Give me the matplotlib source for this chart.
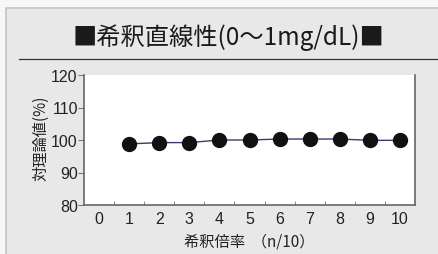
import matplotlib
matplotlib.use("Agg")
import matplotlib.pyplot as plt
from matplotlib.patches import Rectangle
from matplotlib.lines import Line2D

dilution = [1, 2, 3, 4, 5, 6, 7, 8, 9, 10]
ratio = [98.8, 99.2, 99.2, 100.0, 100.0, 100.3, 100.3, 100.3, 99.9, 99.9]
xticks = list(range(0, 11))
yticks = [80, 90, 100, 110, 120]
title = "■希釈直線性(0〜1mg/dL)■"
xlabel = "希釈倍率  （n/10）"
ylabel = "対理論値(%)"

jp = ['Noto Sans CJK JP', 'DejaVu Sans']
num = ['Liberation Sans', 'DejaVu Sans']

W, H = 438, 255
fig = plt.figure(figsize=(W / 100, H / 100), dpi=100)
fig.patch.set_facecolor('#f7f7f7')

# panel
fig.patches.append(Rectangle((6 / W, -0.01), 1, 1.01 - 9 / H, transform=fig.transFigure,
                             facecolor='#e8e8e8', edgecolor='#c4c4c4', linewidth=1.2, zorder=-5))
fig.lines.append(Line2D([19 / W, 1], [1 - 60 / H, 1 - 60 / H], transform=fig.transFigure,
                        color='#333333', linewidth=0.9, zorder=-4))
fig.text(228 / W, 1 - 38 / H, title, ha='center', va='center', fontsize=17.5,
         family=jp, color='#1a1a1a')

ax = fig.add_axes([84 / W, 1 - 206 / H, (415 - 84) / W, (206 - 76) / H])
ax.set_zorder(2)
ax.set_facecolor('white')
ax.plot(dilution, ratio, color='#3b3b6e', linewidth=1.0, marker='o', markersize=10,
        markerfacecolor='#111111', markeredgecolor='#111111', zorder=3)
ax.set_xlim(-0.5, 10.5)
ax.set_ylim(80, 120)
ax.set_xticks(xticks)
ax.set_xticks([x + 0.5 for x in xticks[:-1]], minor=True)
ax.set_yticks(yticks)
ax.tick_params(axis='x', which='major', length=0, pad=4, labelsize=11.5, colors='#222222')
ax.tick_params(axis='x', which='minor', length=3, direction='in', color='#777777')
ax.tick_params(axis='y', which='major', length=4, direction='out', pad=0.5, labelsize=11.5,
               color='#777777', labelcolor='#222222')
for lab in ax.get_xticklabels() + ax.get_yticklabels():
    lab.set_family(num)
ax.spines['top'].set_visible(False)
for s in ['left', 'bottom', 'right']:
    ax.spines[s].set_color('#666666')
    ax.spines[s].set_linewidth(1.2)
ax.set_xlabel(xlabel, family=jp, fontsize=11, color='#222222')
ax.xaxis.set_label_coords(0.5, -(242.5 - 206) / (206 - 76))
ax.xaxis.label.set_va('center')
ax.set_ylabel(ylabel, family=jp, fontsize=11, color='#222222')
ax.yaxis.set_label_coords(-(84 - 41) / (415 - 84), (206 - 138) / (206 - 76))
ax.yaxis.label.set_va('center')

fig.savefig('out.png', dpi=100, facecolor=fig.get_facecolor())
